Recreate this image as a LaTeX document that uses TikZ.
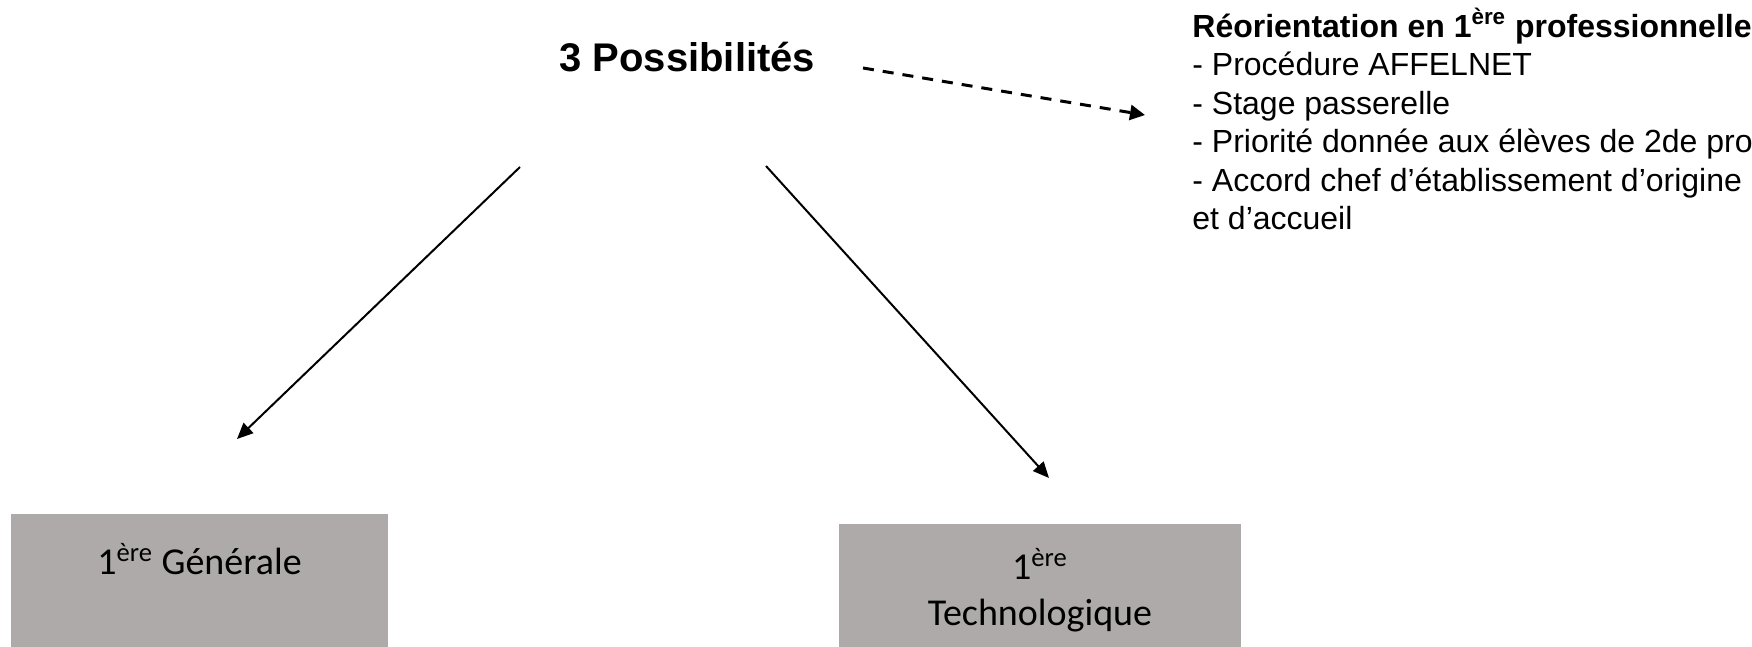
\documentclass[tikz,border=0pt]{standalone}
\usepackage{fontspec}
\setmainfont{Liberation Sans}
\newfontfamily\calibri{Carlito}
\usetikzlibrary{arrows.meta}
\definecolor{boxgray}{HTML}{AEAAAA}

\begin{document}
\begin{tikzpicture}[x=0.5pt, y=-0.5pt, >={Triangle[length=8pt,width=7pt]},
  bloc/.style={fill=boxgray, inner sep=0pt, align=center,
    font=\calibri\fontsize{19}{23}\selectfont}]
\useasboundingbox (0,0) rectangle (1752,647);
\node[anchor=base west, inner sep=0pt, font=\bfseries\fontsize{20}{24}\selectfont]
    (poss) at (559,72) {3 Possibilités};
\node[anchor=base west, inner sep=0pt, align=left, font=\fontsize{16}{19.25}\selectfont]
    (reo) at (1192,229.5) {\textbf{Réorientation en 1\textsuperscript{ère} professionnelle}\\
    - Procédure AFFELNET\\
    - Stage passerelle\\
    - Priorité donnée aux élèves de 2de pro\\
    - Accord chef d’établissement d’origine\\
    et d’accueil};
\node[bloc, minimum width=188.5pt, text height=30pt, text depth=36.5pt, anchor=base]
    (gen) at (199.5,574) {1\textsuperscript{ère} Générale};
\node[bloc, minimum width=201pt, text height=50.5pt, text depth=11pt, anchor=base]
    (techno) at (1040,625) {1\textsuperscript{ère}\\Technologique};
\coordinate (reo-in) at (1145,115);
\coordinate (poss-r) at (863,68);
\coordinate (poss-gen) at (520,167);
\coordinate (gen-in) at (237,439);
\coordinate (poss-techno) at (766,166);
\coordinate (techno-in) at (1049,478);
\draw[->, line width=1.5pt, dash pattern=on 5.5pt off 4.5pt,
    >={Triangle[length=7.5pt,width=7.5pt]}] (poss-r) -- (reo-in);
\draw[->, line width=1pt] (poss-gen) -- (gen-in);
\draw[->, line width=1pt] (poss-techno) -- (techno-in);
\end{tikzpicture}
\end{document}
